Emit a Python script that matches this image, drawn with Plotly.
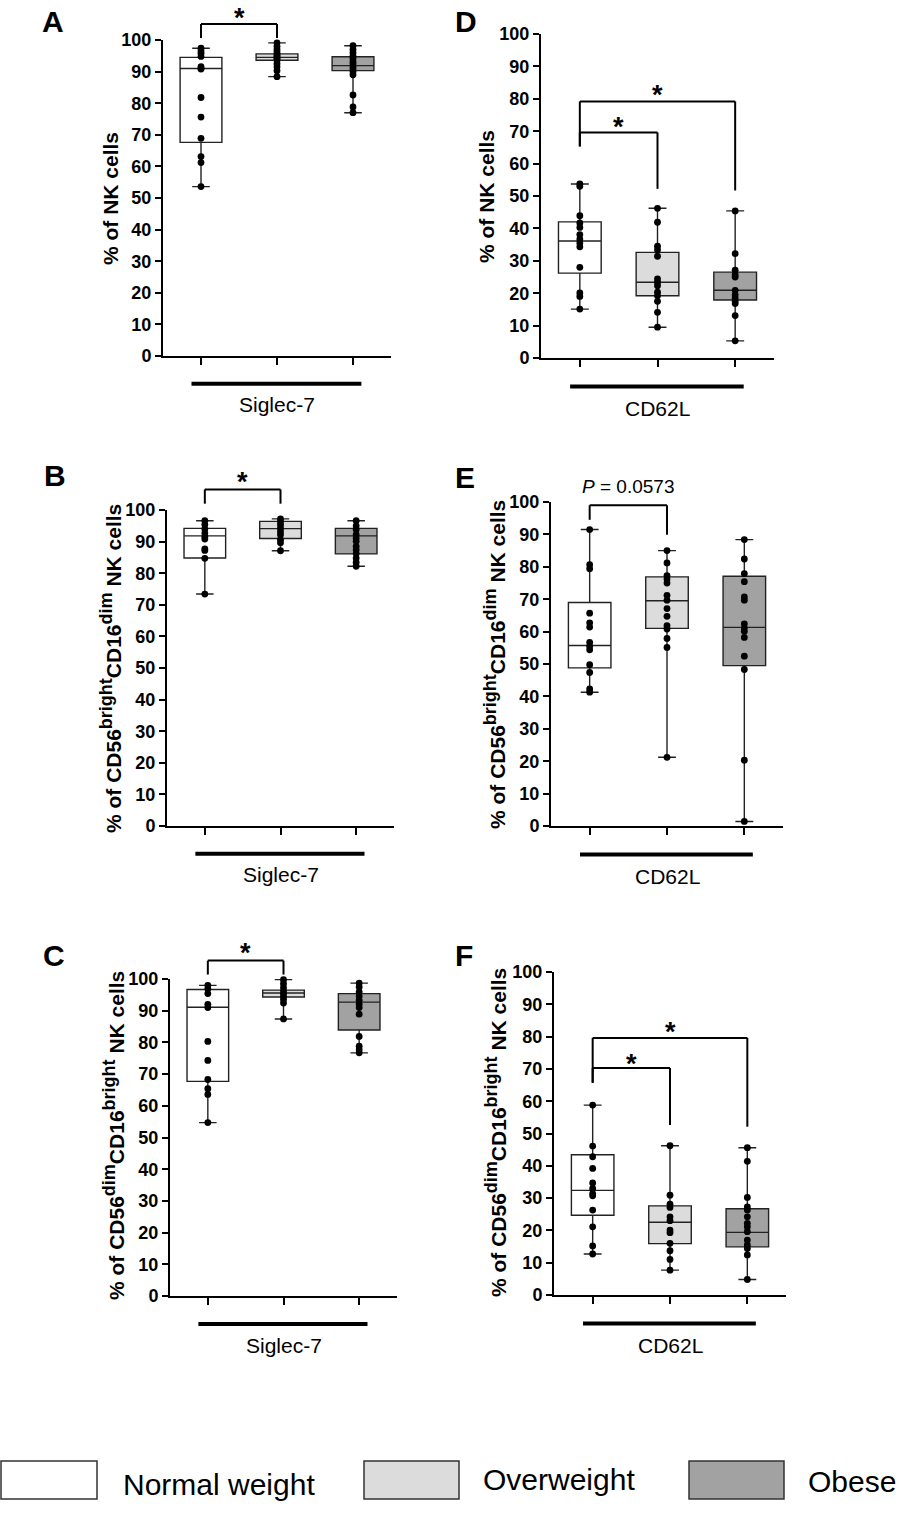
import plotly.graph_objects as go

W, H = 902, 1525
FONT = "Liberation Sans, Arial, sans-serif"

GROUPS = ["Normal weight", "Overweight", "Obese"]
FILLS = ["#ffffff", "#dcdcdc", "#a2a2a2"]

# A: Siglec-7, % of NK cells
A_NORMAL = [97.4, 96.5, 95.8, 94.8, 91.6, 91.0, 90.8, 81.8, 75.6, 68.9, 63.1, 61.2, 53.6]
A_OVER = [99.1, 98.0, 97.0, 96.2, 95.5, 95.0, 94.6, 94.2, 93.6, 92.5, 91.5, 90.3, 88.4]
A_OBESE = [98.2, 97.0, 96.0, 95.0, 94.2, 93.2, 92.5, 91.5, 90.8, 90.0, 89.0, 82.6, 78.8, 77.0]
A_Q1 = [67.6, 93.6, 90.3]
A_MED = [91.0, 94.5, 91.9]
A_Q3 = [94.5, 95.6, 94.7]

# B: Siglec-7, % of CD56bright CD16dim NK cells
B_NORMAL = [96.6, 95.4, 94.0, 92.7, 91.5, 90.8, 87.7, 87.2, 84.7, 73.4]
B_OVER = [97.2, 96.4, 95.4, 94.3, 93.2, 92.2, 90.6, 89.6, 87.1]
B_OBESE = [96.6, 95.0, 93.8, 92.2, 91.1, 90.1, 88.5, 87.4, 86.2, 84.8, 83.5, 82.2]
B_Q1 = [84.8, 91.0, 86.1]
B_MED = [91.8, 94.1, 91.8]
B_Q3 = [94.2, 96.4, 94.2]

# C: Siglec-7, % of CD56dim CD16bright NK cells
C_NORMAL = [98.0, 96.9, 95.4, 92.0, 91.0, 80.3, 74.3, 68.3, 65.4, 63.6, 54.7]
C_OVER = [99.8, 98.5, 97.3, 96.2, 95.4, 94.5, 93.5, 92.4, 87.4]
C_OBESE = [98.7, 97.5, 95.9, 94.6, 93.3, 92.0, 91.0, 88.9, 81.9, 78.8, 77.7, 76.7]
C_Q1 = [67.7, 94.3, 83.9]
C_MED = [91.1, 95.6, 92.7]
C_Q3 = [96.7, 96.5, 95.4]

# D: CD62L, % of NK cells
D_NORMAL = [53.7, 53.0, 43.9, 41.7, 40.3, 38.1, 36.7, 35.5, 34.3, 28.0, 20.1, 19.0, 15.1]
D_OVER = [46.2, 41.9, 34.5, 33.4, 31.4, 24.4, 23.4, 22.3, 20.3, 19.2, 17.5, 14.1, 9.5]
D_OBESE = [45.4, 32.2, 27.1, 25.7, 25.0, 20.9, 19.5, 18.5, 17.5, 16.8, 13.1, 5.3]
D_Q1 = [26.2, 19.2, 17.9]
D_MED = [36.1, 23.4, 20.9]
D_Q3 = [42.0, 32.6, 26.5]

# E: CD62L, % of CD56bright CD16dim NK cells
E_NORMAL = [91.5, 80.7, 79.4, 65.7, 62.7, 61.4, 56.7, 55.5, 54.4, 49.8, 47.4, 42.3, 41.3]
E_OVER = [85.0, 81.2, 77.3, 76.2, 75.0, 71.2, 69.7, 67.1, 64.7, 61.8, 60.8, 57.9, 55.1, 21.2]
E_OBESE = [88.4, 82.4, 77.9, 75.4, 70.7, 69.7, 62.4, 61.1, 60.1, 58.2, 52.4, 48.3, 20.3, 1.4]
E_Q1 = [48.8, 61.0, 49.5]
E_MED = [55.7, 69.5, 61.3]
E_Q3 = [69.0, 76.9, 77.1]

# F: CD62L, % of CD56dim CD16bright NK cells
F_NORMAL = [58.8, 46.1, 42.8, 39.2, 34.7, 33.0, 31.4, 30.7, 26.3, 21.1, 15.2, 12.7]
F_OVER = [46.2, 30.9, 28.1, 27.1, 24.2, 23.0, 20.1, 19.3, 16.0, 13.7, 11.0, 7.7]
F_OBESE = [45.6, 41.4, 30.2, 27.3, 26.3, 24.2, 22.2, 21.1, 19.6, 17.0, 15.5, 14.4, 12.4, 4.8]
F_Q1 = [24.7, 15.9, 14.9]
F_MED = [32.4, 22.5, 19.4]
F_Q3 = [43.4, 27.6, 26.7]


def sup(s):
    return '<sup><span style="font-size:18px">' + s + "</span></sup>"


TITLE_NK = "% of NK cells"
TITLE_BRIGHT = "% of CD56" + sup("bright") + "CD16" + sup("dim") + " NK cells"
TITLE_DIM = "% of CD56" + sup("dim") + "CD16" + sup("bright") + " NK cells"


def px(x, y):
    return x / W, 1 - y / H


# plot box px (x0, x1, ytop, ybot), letter pos, title pos,
# brackets (xa, xb, leg a bottom, leg b bottom, top, text, text y)
panels = [
    dict(letter="A", pts=[A_NORMAL, A_OVER, A_OBESE], q1=A_Q1, med=A_MED, q3=A_Q3,
         group="Siglec-7", title=TITLE_NK, box=(163, 391, 40, 356),
         lpos=(53, 21), tpos=(110, 199),
         brackets=[(0, 1, 100.6, 100.6, 105.1, "*", 108.9)]),
    dict(letter="D", pts=[D_NORMAL, D_OVER, D_OBESE], q1=D_Q1, med=D_MED, q3=D_Q3,
         group="CD62L", title=TITLE_NK, box=(541, 774, 34, 358),
         lpos=(466, 22), tpos=(486, 197),
         brackets=[(0, 1, 65.3, 52.2, 69.6, "*", 73.0),
                   (0, 2, 65.3, 51.7, 79.2, "*", 83.0)]),
    dict(letter="B", pts=[B_NORMAL, B_OVER, B_OBESE], q1=B_Q1, med=B_MED, q3=B_Q3,
         group="Siglec-7", title=TITLE_BRIGHT, box=(167, 394, 510, 826),
         lpos=(55, 475), tpos=(110, 669),
         brackets=[(0, 1, 102.0, 102.0, 106.5, "*", 110.9)]),
    dict(letter="E", pts=[E_NORMAL, E_OVER, E_OBESE], q1=E_Q1, med=E_MED, q3=E_Q3,
         group="CD62L", title=TITLE_BRIGHT, box=(551, 783, 502, 826),
         lpos=(465, 477), tpos=(494, 665),
         brackets=[(0, 1, 94.5, 89.9, 99.0, "<i>P</i> = 0.0573", 104.8)]),
    dict(letter="C", pts=[C_NORMAL, C_OVER, C_OBESE], q1=C_Q1, med=C_MED, q3=C_Q3,
         group="Siglec-7", title=TITLE_DIM, box=(170, 397, 979, 1296),
         lpos=(54, 955), tpos=(113, 1136),
         brackets=[(0, 1, 101.4, 101.4, 105.8, "*", 110.0)]),
    dict(letter="F", pts=[F_NORMAL, F_OVER, F_OBESE], q1=F_Q1, med=F_MED, q3=F_Q3,
         group="CD62L", title=TITLE_DIM, box=(554, 786, 972, 1295),
         lpos=(464, 955), tpos=(495, 1133),
         brackets=[(0, 1, 65.7, 52.6, 70.3, "*", 73.4),
                   (0, 2, 65.7, 52.1, 79.6, "*", 83.3)]),
]

fig = go.Figure()
shapes = []
annotations = []
line = dict(color="black", width=2)

for k, p in enumerate(panels, start=1):
    sfx = "" if k == 1 else str(k)
    xa, ya = "x" + sfx, "y" + sfx
    for i in range(3):
        pts = p["pts"][i]
        fig.add_trace(go.Box(
            x=[i], q1=[p["q1"][i]], median=[p["med"][i]], q3=[p["q3"][i]],
            lowerfence=[min(pts)], upperfence=[max(pts)],
            fillcolor=FILLS[i], line=dict(color="#222222", width=1.4),
            width=0.55, whiskerwidth=0.42, boxpoints=False,
            xaxis=xa, yaxis=ya, showlegend=False, hoverinfo="skip",
        ))
        fig.add_trace(go.Scatter(
            x=[i] * len(pts), y=pts, mode="markers",
            marker=dict(color="black", size=6.8), cliponaxis=False,
            xaxis=xa, yaxis=ya, showlegend=False, name=GROUPS[i],
        ))

    x0, x1, yt, yb = p["box"]
    fig.update_layout(**{
        "xaxis" + sfx: dict(
            domain=[x0 / W, x1 / W], range=[-0.5, 2.5], anchor=ya,
            showline=True, linecolor="black", linewidth=2,
            ticks="outside", tickvals=[0, 1, 2], ticklen=7, tickwidth=2,
            tickcolor="black", showticklabels=False, showgrid=False,
            zeroline=False, fixedrange=True, automargin=False,
        ),
        "yaxis" + sfx: dict(
            domain=[1 - yb / H, 1 - yt / H], range=[0, 100], anchor=xa,
            showline=True, linecolor="black", linewidth=2,
            ticks="outside", tickvals=list(range(0, 101, 10)), ticklen=6,
            tickwidth=2, tickcolor="black", showgrid=False, zeroline=False,
            tickfont=dict(family=FONT, size=18, color="black", weight="bold"),
            fixedrange=True, automargin=False,
        ),
    })

    xd, yd = xa, ya + " domain"
    # underline bar and group label
    shapes.append(dict(type="line", xref=xa + " domain", yref=yd,
                       x0=0.125, x1=0.87, y0=-0.088, y1=-0.088,
                       line=dict(color="black", width=4)))
    annotations.append(dict(xref=xa, yref=yd, x=1, y=-0.155, text=p["group"],
                            showarrow=False, xanchor="center", yanchor="middle",
                            font=dict(family=FONT, size=21, color="black")))
    # significance brackets
    for (a, b, la, lb, top, txt, ty) in p["brackets"]:
        for sx, sy0, sy1 in [(a, la, top), (b, lb, top)]:
            shapes.append(dict(type="line", xref=xd, yref=yd, x0=sx, x1=sx,
                               y0=sy0 / 100, y1=sy1 / 100, line=line))
        shapes.append(dict(type="line", xref=xd, yref=yd, x0=a, x1=b,
                           y0=top / 100, y1=top / 100, line=line))
        star = txt == "*"
        annotations.append(dict(
            xref=xd, yref=yd, x=(a + b) / 2, y=ty / 100, text=txt,
            showarrow=False, xanchor="center", yanchor="middle",
            yshift=-6 if star else 0,
            font=dict(family=FONT, size=27 if star else 19, color="black",
                      weight="bold" if star else "normal"),
        ))
    # panel letter
    lx, ly = px(*p["lpos"])
    annotations.append(dict(xref="paper", yref="paper", x=lx, y=ly, text=p["letter"],
                            showarrow=False, xanchor="center", yanchor="middle",
                            font=dict(family=FONT, size=30, color="black", weight="bold")))
    # y title
    tx, ty = px(*p["tpos"])
    annotations.append(dict(xref="paper", yref="paper", x=tx, y=ty, text=p["title"],
                            textangle=-90, showarrow=False, xanchor="center",
                            yanchor="middle",
                            font=dict(family=FONT, size=21, color="black", weight="bold")))

# legend drawn as boxes + labels along the bottom
legend_boxes = [(0, 97), (363, 459), (688, 784)]
legend_text_x = [121, 481, 806]
legend_text_y = [1484, 1479, 1481]
for i in range(3):
    bx0, bx1 = legend_boxes[i]
    shapes.append(dict(type="rect", xref="paper", yref="paper",
                       x0=(bx0 + 1) / W, x1=bx1 / W, y0=1 - 1499 / H, y1=1 - 1461 / H,
                       fillcolor=FILLS[i], line=dict(color="#333333", width=1.5)))
    lx, ly = px(legend_text_x[i], legend_text_y[i])
    annotations.append(dict(xref="paper", yref="paper", x=lx, y=ly, text=GROUPS[i],
                            showarrow=False, xanchor="left", yanchor="middle",
                            font=dict(family=FONT, size=30, color="black")))

fig.update_layout(
    width=W, height=H, margin=dict(l=0, r=0, t=0, b=0, autoexpand=False),
    paper_bgcolor="white", plot_bgcolor="white",
    shapes=shapes, annotations=annotations, showlegend=False,
    boxmode="overlay",
)

fig.write_html("out.html", config={"displayModeBar": False},
               post_script="document.body.style.margin='0';")
